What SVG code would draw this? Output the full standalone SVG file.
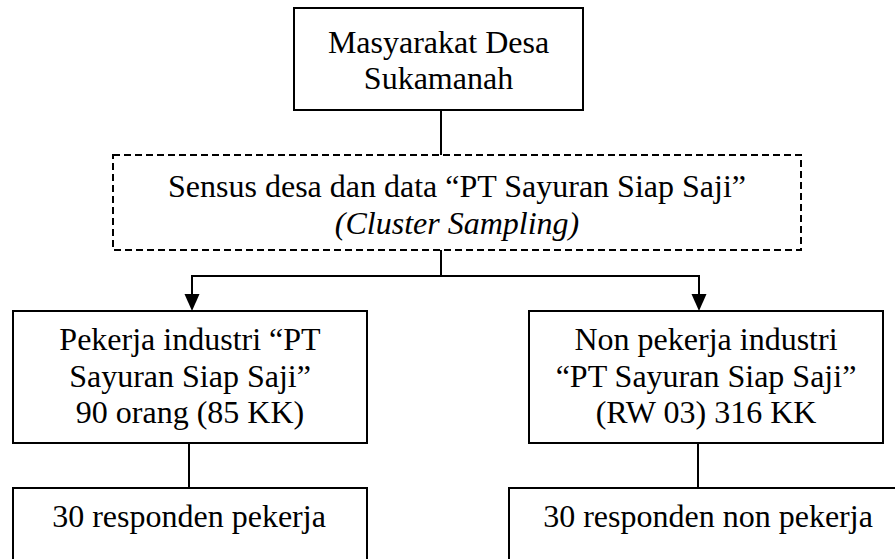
<svg xmlns="http://www.w3.org/2000/svg" width="895" height="559" viewBox="0 0 895 559">
<style>
  .box { fill: #ffffff; stroke: #000000; stroke-width: 2; }
  .dash { fill: #ffffff; stroke: #000000; stroke-width: 2; stroke-dasharray: 7 4; }
  .line { fill: none; stroke: #000000; stroke-width: 2; }
  .lbl { font-size: 32px; fill: #000000; text-anchor: middle; }
  .it { font-style: italic; }
</style>
<defs>
  <path id="arrowhead" d="M-7.5,0 L7.5,0 L0,17 Z" fill="#000000"/>
</defs>
<rect width="895" height="559" fill="#ffffff"/>
<g id="connectors">
  <line class="line" x1="441" y1="110" x2="441" y2="155"/>
  <line class="line" x1="441" y1="250" x2="441" y2="276"/>
  <polyline class="line" points="192,296 192,276 699,276 699,296"/>
  <use href="#arrowhead" x="192" y="294"/>
  <use href="#arrowhead" x="699" y="294"/>
  <line class="line" x1="189" y1="443" x2="189" y2="488"/>
  <line class="line" x1="698" y1="443" x2="698" y2="488"/>
</g>
<g font-family="'Liberation Serif', 'Times New Roman', 'DejaVu Serif', serif">
<g id="node-masyarakat">
  <rect class="box" x="294" y="8" width="289" height="102"/>
  <text class="lbl" x="438.5" y="52.5">Masyarakat Desa</text>
  <text class="lbl" x="438.5" y="89.3">Sukamanah</text>
</g>
<g id="node-sensus">
  <rect class="dash" x="113" y="155" width="688" height="95"/>
  <text class="lbl" x="457" y="197">Sensus desa dan data “PT Sayuran Siap Saji”</text>
  <text class="lbl it" x="457" y="233.5">(Cluster Sampling)</text>
</g>
<g id="node-pekerja">
  <rect class="box" x="13" y="311" width="354" height="132"/>
  <text class="lbl" x="190" y="350">Pekerja industri “PT</text>
  <text class="lbl" x="190" y="386.5">Sayuran Siap Saji”</text>
  <text class="lbl" x="190" y="423">90 orang (85 KK)</text>
</g>
<g id="node-nonpekerja">
  <rect class="box" x="529" y="311" width="354" height="132"/>
  <text class="lbl" x="706" y="350">Non pekerja industri</text>
  <text class="lbl" x="706" y="386.5">“PT Sayuran Siap Saji”</text>
  <text class="lbl" x="706" y="423">(RW 03) 316 KK</text>
</g>
<g id="node-resp-pekerja">
  <rect class="box" x="13" y="488" width="354" height="100"/>
  <text class="lbl" x="189" y="527">30 responden pekerja</text>
</g>
<g id="node-resp-nonpekerja">
  <rect class="box" x="509" y="488" width="400" height="100"/>
  <text class="lbl" x="708" y="527">30 responden non pekerja</text>
</g>
</g>
</svg>
